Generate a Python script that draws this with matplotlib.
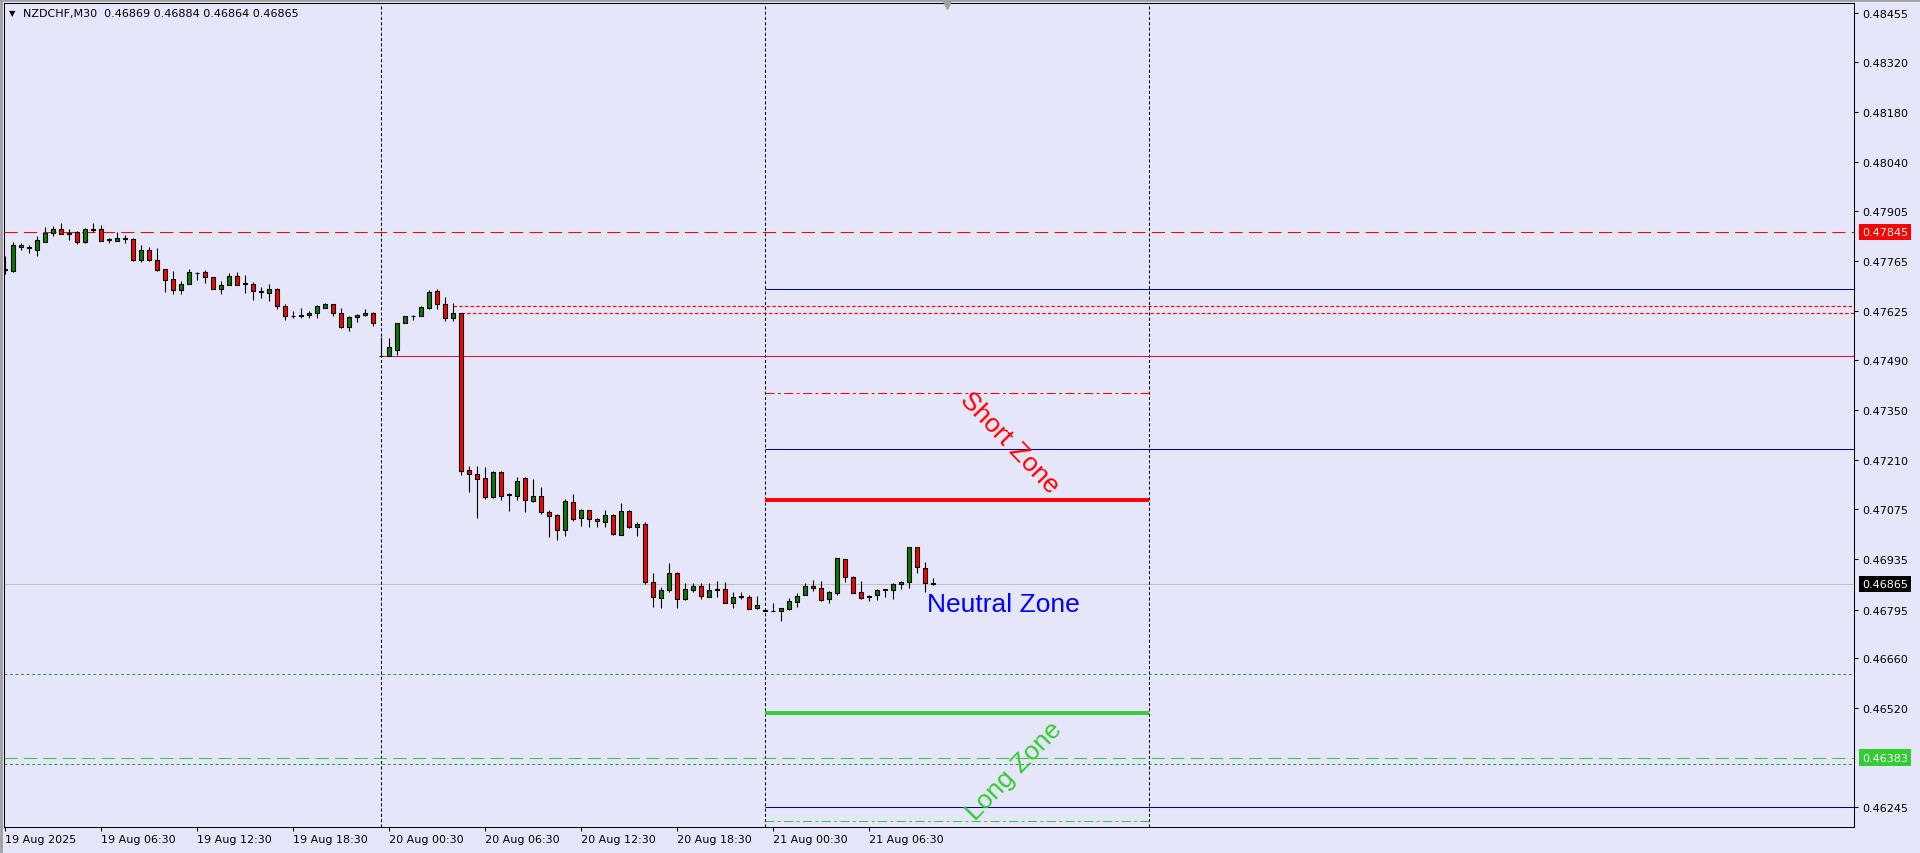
import matplotlib.pyplot as plt
import numpy as np

plt.rcParams['lines.scale_dashes'] = False
plt.rcParams['font.family'] = ['DejaVu Sans']

# ---------------------------------------------------------------
# data: NZDCHF M30 bars, bar index 0 = 19 Aug 2025 00:00
# ---------------------------------------------------------------
symbol = "NZDCHF,M30"
first_bar = 1

opens = [0.47742, 0.47737, 0.47804, 0.47805, 0.47796, 0.47818, 0.47844, 0.47855, 0.47844, 0.47845,
         0.47818, 0.47852, 0.47855, 0.47825, 0.47821, 0.47830, 0.47826, 0.47768, 0.47795, 0.47769,
         0.47742, 0.47714, 0.47685, 0.47702, 0.47731, 0.47735, 0.47719, 0.47688, 0.47699, 0.47722,
         0.47702, 0.47702, 0.47680, 0.47677, 0.47688, 0.47641, 0.47612, 0.47613, 0.47614, 0.47621,
         0.47635, 0.47644, 0.47621, 0.47582, 0.47608, 0.47614, 0.47621, 0.47501, 0.47500, 0.47518,
         0.47592, 0.47612, 0.47613, 0.47635, 0.47681, 0.47644, 0.47605, 0.47619, 0.47182, 0.47171,
         0.47160, 0.47108, 0.47177, 0.47114, 0.47110, 0.47160, 0.47098, 0.47112, 0.47065, 0.47057,
         0.47015, 0.47093, 0.47049, 0.47071, 0.47047, 0.47038, 0.47057, 0.47003, 0.47068, 0.47025,
         0.47033, 0.46871, 0.46828, 0.46848, 0.46897, 0.46823, 0.46848, 0.46861, 0.46831, 0.46851,
         0.46851, 0.46812, 0.46831, 0.46829, 0.46798, 0.46792, 0.46792, 0.46790, 0.46796, 0.46817,
         0.46834, 0.46860, 0.46854, 0.46824, 0.46842, 0.46935, 0.46885, 0.46843, 0.46831, 0.46834,
         0.46850, 0.46848, 0.46865, 0.46871, 0.46968, 0.46910, 0.46869]
highs = [0.47779, 0.47818, 0.47814, 0.47809, 0.47835, 0.47859, 0.47861, 0.47870, 0.47855, 0.47847,
         0.47858, 0.47872, 0.47865, 0.47830, 0.47846, 0.47837, 0.47829, 0.47809, 0.47804, 0.47802,
         0.47744, 0.47737, 0.47708, 0.47742, 0.47735, 0.47739, 0.47721, 0.47710, 0.47731, 0.47733,
         0.47727, 0.47706, 0.47693, 0.47702, 0.47691, 0.47644, 0.47625, 0.47635, 0.47627, 0.47642,
         0.47649, 0.47646, 0.47633, 0.47611, 0.47617, 0.47630, 0.47623, 0.47553, 0.47550, 0.47592,
         0.47613, 0.47615, 0.47639, 0.47684, 0.47687, 0.47664, 0.47648, 0.47621, 0.47195, 0.47195,
         0.47191, 0.47180, 0.47180, 0.47118, 0.47163, 0.47163, 0.47158, 0.47135, 0.47071, 0.47060,
         0.47102, 0.47116, 0.47075, 0.47073, 0.47049, 0.47071, 0.47060, 0.47091, 0.47071, 0.47038,
         0.47038, 0.46897, 0.46857, 0.46925, 0.46899, 0.46869, 0.46868, 0.46869, 0.46868, 0.46875,
         0.46871, 0.46843, 0.46843, 0.46835, 0.46832, 0.46796, 0.46813, 0.46798, 0.46828, 0.46841,
         0.46868, 0.46877, 0.46874, 0.46846, 0.46937, 0.46935, 0.46887, 0.46873, 0.46836, 0.46852,
         0.46852, 0.46868, 0.46875, 0.46968, 0.46968, 0.46928, 0.46884]
lows = [0.47728, 0.47733, 0.47796, 0.47788, 0.47779, 0.47818, 0.47835, 0.47839, 0.47824, 0.47813,
        0.47816, 0.47846, 0.47821, 0.47814, 0.47821, 0.47815, 0.47765, 0.47762, 0.47766, 0.47737,
        0.47679, 0.47674, 0.47674, 0.47702, 0.47713, 0.47705, 0.47688, 0.47674, 0.47698, 0.47699,
        0.47676, 0.47655, 0.47662, 0.47654, 0.47632, 0.47601, 0.47606, 0.47607, 0.47605, 0.47605,
        0.47633, 0.47612, 0.47579, 0.47570, 0.47595, 0.47612, 0.47584, 0.47499, 0.47500, 0.47503,
        0.47592, 0.47602, 0.47613, 0.47631, 0.47630, 0.47599, 0.47599, 0.47170, 0.47121, 0.47051,
        0.47103, 0.47106, 0.47101, 0.47070, 0.47101, 0.47067, 0.47095, 0.47062, 0.46998, 0.46989,
        0.46999, 0.47042, 0.47028, 0.47024, 0.47025, 0.47024, 0.47002, 0.47003, 0.47023, 0.46999,
        0.46866, 0.46803, 0.46798, 0.46845, 0.46800, 0.46822, 0.46844, 0.46823, 0.46829, 0.46831,
        0.46812, 0.46798, 0.46824, 0.46796, 0.46796, 0.46790, 0.46790, 0.46764, 0.46795, 0.46801,
        0.46834, 0.46847, 0.46818, 0.46814, 0.46836, 0.46872, 0.46840, 0.46824, 0.46818, 0.46822,
        0.46831, 0.46823, 0.46852, 0.46854, 0.46896, 0.46845, 0.46864]
closes = [0.47740, 0.47809, 0.47809, 0.47800, 0.47822, 0.47844, 0.47853, 0.47839, 0.47840, 0.47818,
          0.47855, 0.47855, 0.47821, 0.47824, 0.47830, 0.47825, 0.47768, 0.47795, 0.47768, 0.47740,
          0.47713, 0.47685, 0.47700, 0.47733, 0.47732, 0.47719, 0.47688, 0.47699, 0.47722, 0.47699,
          0.47702, 0.47682, 0.47680, 0.47688, 0.47641, 0.47613, 0.47612, 0.47613, 0.47621, 0.47639,
          0.47644, 0.47620, 0.47582, 0.47608, 0.47614, 0.47621, 0.47591, 0.47500, 0.47525, 0.47592,
          0.47611, 0.47613, 0.47636, 0.47678, 0.47644, 0.47605, 0.47619, 0.47181, 0.47173, 0.47157,
          0.47108, 0.47177, 0.47110, 0.47114, 0.47154, 0.47099, 0.47110, 0.47065, 0.47056, 0.47015,
          0.47096, 0.47048, 0.47072, 0.47046, 0.47040, 0.47057, 0.47005, 0.47068, 0.47025, 0.47032,
          0.46871, 0.46829, 0.46849, 0.46897, 0.46823, 0.46851, 0.46860, 0.46832, 0.46849, 0.46848,
          0.46812, 0.46831, 0.46830, 0.46797, 0.46807, 0.46792, 0.46791, 0.46798, 0.46819, 0.46832,
          0.46860, 0.46854, 0.46822, 0.46844, 0.46937, 0.46885, 0.46840, 0.46827, 0.46830, 0.46849,
          0.46850, 0.46865, 0.46872, 0.46968, 0.46912, 0.46868, 0.46865]

x_tick_bars = [1, 13, 25, 37, 49, 61, 73, 85, 97, 109]
x_tick_labels = ["19 Aug 2025", "19 Aug 06:30", "19 Aug 12:30", "19 Aug 18:30", "20 Aug 00:30",
                 "20 Aug 06:30", "20 Aug 12:30", "20 Aug 18:30", "21 Aug 00:30", "21 Aug 06:30"]
y_ticks = [0.48455, 0.48320, 0.48180, 0.48040, 0.47905, 0.47765, 0.47625, 0.47490, 0.47350,
           0.47210, 0.47075, 0.46935, 0.46795, 0.46660, 0.46520, 0.46245]
day_breaks = [48, 96, 144]

# price levels
ask_line = 0.47845
bid_line = 0.46865
long_alert = 0.46383
zone_start, zone_end = 96, 144
short_zone = 0.47100
long_zone = 0.46507
short_stop = 0.47397
long_stop = 0.46206
navy_levels = [0.47687, 0.47242, 0.46245]
day_open = 0.47500
red_dots = [(57, 0.47640), (58, 0.47620)]
green_dots = [0.46615, 0.46365]

# ---------------------------------------------------------------
bg = '#E6E6FA'
x_left, x_right = 0.875, 232.125
y_low, y_high = 0.461897, 0.484829

fig = plt.figure(figsize=(19.2, 8.54), dpi=100, facecolor=bg)
ax = fig.add_axes([4 / 1920, 26 / 854, 1850 / 1920, 824 / 854])
ax.set_facecolor(bg)

o = np.array(opens)
h = np.array(highs)
l = np.array(lows)
c = np.array(closes)
x = np.arange(first_bar, first_bar + len(o))
up = c >= o
body_colors = np.where(up, '#008000', '#FF0000')

ax.vlines(x, l, h, color='black', lw=0.8, zorder=4)
ax.bar(x, np.maximum(np.abs(c - o), 0.000012), bottom=np.minimum(o, c), width=0.62,
       color=body_colors, edgecolor='black', linewidth=0.8, zorder=5)

# day separators
for d in day_breaks:
    ax.axvline(d, color='black', lw=0.75, ls=(0, (2.2, 1.6)), zorder=2)

# full-width lines
ax.axhline(ask_line, color='#FF0000', lw=0.75, ls=(0, (9.5, 4.5)), zorder=2)
ax.axhline(long_alert, color='#32CD32', lw=0.75, ls=(0, (9.5, 4.5)), zorder=2)
ax.axhline(bid_line, color='#C0C0C0', lw=0.75, zorder=1)
for g in green_dots:
    ax.axhline(g, color='#2E8B57', lw=0.75, ls=(0, (2.0, 2.0)), zorder=2)

# partial lines
for lv in navy_levels:
    ax.hlines(lv, zone_start, x_right, color='#000080', lw=0.75, zorder=2)
ax.hlines(day_open, day_breaks[0], x_right, color='#DC143C', lw=0.75, zorder=2)
for start, lv in red_dots:
    ax.hlines(lv, start, x_right, color='#FF0000', lw=0.85, ls=(0, (2.5, 1.6)), zorder=2)
ax.hlines(short_stop, zone_start, zone_end, color='#FF0000', lw=0.75,
          ls=(0, (6.5, 2.5, 2, 2.5)), zorder=2)
ax.hlines(long_stop, zone_start, zone_end, color='#32CD32', lw=0.75,
          ls=(0, (6.5, 2.5, 2, 2.5)), zorder=2)
ax.hlines(short_zone, zone_start, zone_end, color='#FF0000', lw=2.8, zorder=3)
ax.hlines(long_zone, zone_start, zone_end, color='#32CD32', lw=2.8, zorder=3)

# zone labels
zone_font = dict(family='Liberation Sans', fontsize=19)
ax.text(126.6, 0.47261, "Short Zone", color='#FF0000', rotation=-46,
        rotation_mode='anchor', ha='center', va='center', zorder=6, **zone_font)
ax.text(116.3, 0.46810, "Neutral Zone", color='#0000FF', ha='left', va='center',
        zorder=6, **zone_font)
ax.text(127.1, 0.46348, "Long Zone", color='#32CD32', rotation=46,
        rotation_mode='anchor', ha='center', va='center', zorder=6, **zone_font)

# axes
ax.set_xlim(x_left, x_right)
ax.set_ylim(y_low, y_high)
ax.yaxis.tick_right()
ax.set_yticks(y_ticks)
ax.set_yticklabels([f"{v:.5f}" for v in y_ticks])
ax.set_xticks(x_tick_bars)
ax.set_xticklabels(x_tick_labels)
for lab in ax.get_xticklabels():
    lab.set_horizontalalignment('left')
ax.tick_params(axis='y', direction='out', length=3, width=0.75, pad=3, labelsize=8, colors='black')
ax.tick_params(axis='x', direction='out', length=3, width=0.75, pad=2, labelsize=8, colors='black')
for s in ax.spines.values():
    s.set_linewidth(0.75)
    s.set_color('black')

# price tags on the right scale
tags = [(ask_line, '#FF0000'), (bid_line, '#000000'), (long_alert, '#32CD32')]
for lv, col in tags:
    ax.text(1.00432, lv, f"{lv:.5f}", transform=ax.get_yaxis_transform(), color='white',
            fontsize=8, ha='left', va='center', clip_on=False, zorder=10,
            bbox=dict(boxstyle='square,pad=0.28', fc=col, ec='none'))

# chart header and shift marker
fig.text(9 / 1920, 1 - 14 / 854, "\u25BC", fontsize=6, va='center', ha='left')
fig.text(23 / 1920, 1 - 14 / 854, f"{symbol}  {opens[-1]:.5f} {highs[-1]:.5f} {lows[-1]:.5f} {closes[-1]:.5f}",
         fontsize=8, va='center', ha='left')
ax.plot([118.75], [0.9975], marker='v', color='#A0A0A0', markersize=6,
        transform=ax.get_xaxis_transform(), clip_on=False, zorder=10)

# window frame
fig.add_artist(plt.Line2D([0, 1], [1 - 1 / 854, 1 - 1 / 854], color='#A0A0A0', lw=2))
fig.add_artist(plt.Line2D([1 / 1920, 1 / 1920], [0, 1], color='#A0A0A0', lw=2))

fig.savefig("out.png", dpi=100, facecolor=bg)
plt.close(fig)
